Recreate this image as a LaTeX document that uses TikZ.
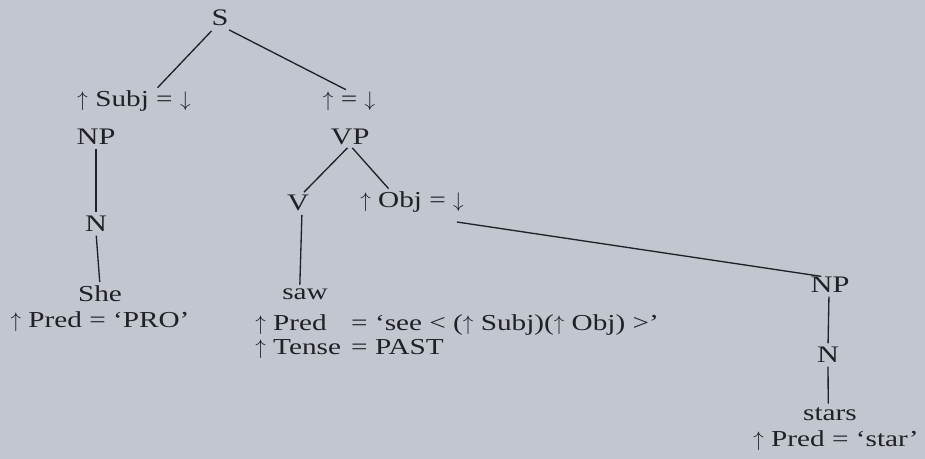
\documentclass[tikz,border=0pt]{standalone}
\usepackage{fontspec}
\setmainfont{Liberation Serif}[FakeStretch=1.28]
\usetikzlibrary{positioning}
\definecolor{paper}{RGB}{193,198,207}
\definecolor{ink}{RGB}{32,32,38}
\newcommand{\up}{$\uparrow$}
\newcommand{\down}{$\downarrow$}

\begin{document}
\begin{tikzpicture}[
    x=0.02cm, y=-0.02cm,
    every node/.style={
        text=ink,
        font=\fontsize{13}{15.5}\selectfont,
        inner sep=0pt
    },
    cat/.style={font=\fontsize{13.5}{16}\selectfont},
    branch/.style={draw=ink, line width=0.75pt, shorten >=2pt, shorten <=2pt}
]

% ------------------------
% Page background
% ------------------------
\fill[paper] (0,0) rectangle (925,459);

% ------------------------
% Root and first level
% ------------------------
\node[cat] (s) at (220,18) {S};

\node (subjeq) at (134,101) {\up{} Subj = \down};
\node (headeq) at (349,101) {\up{} = \down};

\node[cat] (np1) at (96,137) {NP};
\node[cat] (vp) at (350,137) {VP};

% ------------------------
% Subject branch
% ------------------------
\node[cat] (n1) at (96,224) {N};
\node (she) at (100,294) {She};
\node (predpro) at (100,322) {\up{} Pred = `PRO'};

% ------------------------
% Verb branch
% ------------------------
\node[cat] (v) at (298,203) {V};
\node (objeq) at (412,202) {\up{} Obj = \down};

\node (saw) at (305,294) {saw};
\node[anchor=north west] (predsee) at (255,311) {%
\begin{tabular}{@{}l@{\hspace{0.45em}}l@{}}
\up{} Pred & = `see < (\up{} Subj)(\up{} Obj) >'\\[-2pt]
\up{} Tense & = PAST
\end{tabular}};

% ------------------------
% Object branch
% ------------------------
\node[cat] (np2) at (830,285) {NP};
\node[cat] (n2) at (828,355) {N};
\node (stars) at (830,414) {stars};
\node (predstar) at (836,441) {\up{} Pred = `star'};

% ------------------------
% Branches
% ------------------------
\draw[branch] (s.south) ++(-6,2) -- ([xshift=12pt]subjeq.north);
\draw[branch] (s.south) ++(6,2) -- (headeq.north);
\draw[branch] (np1.south) -- (n1.north);
\draw[branch] (n1.south) -- (she.north);
\draw[branch] (vp.south) -- ([xshift=2pt]v.north);
\draw[branch] (vp.south) -- ([xshift=-12pt]objeq.north);
\draw[branch] (v.south) ++(4,0) -- ([xshift=-3pt]saw.north);
\draw[branch] ([xshift=-6pt,yshift=-5pt]objeq.south east) -- ([xshift=-3pt]np2.north);
\draw[branch] (np2.south) ++(-1,0) -- (n2.north);
\draw[branch] (n2.south) -- ([xshift=-1pt]stars.north);

\end{tikzpicture}
\end{document}
